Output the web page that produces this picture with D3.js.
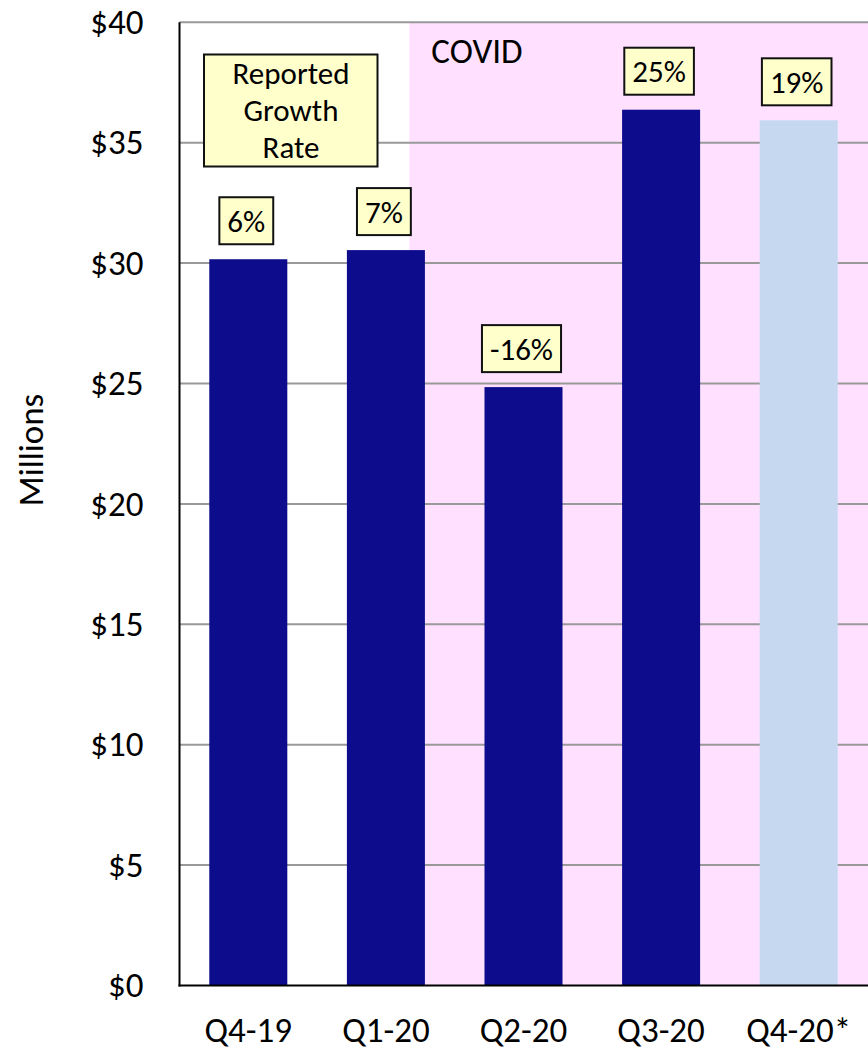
<!DOCTYPE html>
<html>
<head>
<meta charset="utf-8">
<script src="https://cdn.jsdelivr.net/npm/d3@7"></script>
<style>
  html, body { margin: 0; padding: 0; background: #fff; }
  svg { display: block; }
  text { font-family: Carlito, Lato, "Open Sans", sans-serif; fill: #000; }
</style>
</head>
<body>
<svg id="chart" width="868" height="1050"></svg>
<script>
// ---- data ----
const categories = ["Q4-19", "Q1-20", "Q2-20", "Q3-20", "Q4-20*"];
const revenue = [30.16, 30.54, 24.85, 36.37, 35.93];
const growthLabels = ["6%", "7%", "-16%", "25%", "19%"];
const estimated = [false, false, false, false, true];
const yTicks = [0, 5, 10, 15, 20, 25, 30, 35, 40];
const yTickLabels = ["$0", "$5", "$10", "$15", "$20", "$25", "$30", "$35", "$40"];
const annotationLines = ["Reported", "Growth", "Rate"];
const covidLabel = "COVID";
const yTitle = "Millions";

// ---- layout ----
const W = 868, H = 1050;
const m = { left: 179.5, right: 0.5, top: 22.3, bottom: 1050 - 985.5 };
const axisFont = 35;
const labelFont = 31;
const svg = d3.select("#chart");

const x = d3.scaleBand()
  .domain(categories)
  .range([m.left, W - m.right])
  .paddingInner(0.433)
  .paddingOuter(0.2165);

const y = d3.scaleLinear()
  .domain([0, 40])
  .range([H - m.bottom, m.top]);

// COVID shaded region (starts late in Q1-20)
const covidX = x("Q1-20") + x.bandwidth() * 0.8;
svg.append("rect")
  .attr("x", covidX)
  .attr("y", y(40))
  .attr("width", W - covidX)
  .attr("height", y(0) - y(40))
  .attr("fill", "#FFE1FF");

// gridlines
svg.append("g")
  .selectAll("line")
  .data(yTicks.filter(d => d > 0))
  .join("line")
  .attr("x1", m.left)
  .attr("x2", W)
  .attr("y1", d => y(d))
  .attr("y2", d => y(d))
  .attr("stroke", "#999")
  .attr("stroke-width", 2);

// bars
svg.append("g")
  .selectAll("rect")
  .data(categories)
  .join("rect")
  .attr("x", d => x(d))
  .attr("width", x.bandwidth())
  .attr("y", (d, i) => y(revenue[i]))
  .attr("height", (d, i) => y(0) - y(revenue[i]))
  .attr("fill", (d, i) => estimated[i] ? "#C5D8F0" : "#0C0C8C");

// axes lines
svg.append("line")
  .attr("x1", m.left).attr("x2", m.left)
  .attr("y1", y(40)).attr("y2", y(0) + 1)
  .attr("stroke", "#000").attr("stroke-width", 2);
svg.append("line")
  .attr("x1", m.left - 1).attr("x2", W)
  .attr("y1", y(0)).attr("y2", y(0))
  .attr("stroke", "#000").attr("stroke-width", 2);

// y axis labels (via d3 axis, domain/ticks hidden)
const yAxis = d3.axisLeft(y)
  .tickValues(yTicks)
  .tickFormat((d, i) => yTickLabels[i])
  .tickSize(0)
  .tickPadding(36);
const gy = svg.append("g")
  .attr("transform", `translate(${m.left},0)`)
  .call(yAxis);
gy.select(".domain").remove();
gy.selectAll("text")
  .style("font-family", "Carlito, Lato, sans-serif")
  .style("font-size", axisFont + "px")
  .attr("fill", "#000");

// x axis labels
const xAxis = d3.axisBottom(x).tickSize(0).tickPadding(0);
const gx = svg.append("g")
  .attr("transform", `translate(0,${y(0)})`)
  .call(xAxis);
gx.select(".domain").remove();
gx.selectAll("text")
  .attr("dy", null)
  .attr("y", 1042 - y(0))
  .style("font-family", "Carlito, Lato, sans-serif")
  .style("font-size", axisFont + "px")
  .attr("fill", "#000");

// y title
svg.append("text")
  .attr("transform", `translate(43,450) rotate(-90)`)
  .attr("text-anchor", "middle")
  .style("font-size", axisFont + "px")
  .text(yTitle);

// COVID label
svg.append("text")
  .attr("x", covidX + 22)
  .attr("y", 63)
  .style("font-size", axisFont + "px")
  .text(covidLabel);

// growth label boxes
const boxH = 47;
const gap = 15;
const gl = svg.append("g");
categories.forEach((c, i) => {
  const cx = x(c) + x.bandwidth() / 2 - 2;
  const bottom = y(revenue[i]) - gap;
  const g = gl.append("g");
  const r = g.append("rect")
    .attr("fill", "#FFFFCC")
    .attr("stroke", "#111")
    .attr("stroke-width", 2);
  const t = g.append("text")
    .attr("x", cx)
    .attr("y", bottom - boxH / 2)
    .attr("dy", "0.36em")
    .attr("text-anchor", "middle")
    .style("font-size", labelFont + "px")
    .text(growthLabels[i]);
  const tw = t.node().getComputedTextLength();
  const bw = tw + 16;
  r.attr("x", cx - bw / 2)
    .attr("y", bottom - boxH)
    .attr("width", bw)
    .attr("height", boxH);
});

// "Reported Growth Rate" annotation box
const ann = svg.append("g");
ann.append("rect")
  .attr("x", 204).attr("y", 54.5)
  .attr("width", 173.5).attr("height", 112)
  .attr("fill", "#FFFFCC")
  .attr("stroke", "#111")
  .attr("stroke-width", 2);
ann.selectAll("text")
  .data(annotationLines)
  .join("text")
  .attr("x", 291)
  .attr("y", (d, i) => 84 + i * 37)
  .attr("text-anchor", "middle")
  .style("font-size", labelFont + "px")
  .text(d => d);
</script>
</body>
</html>
